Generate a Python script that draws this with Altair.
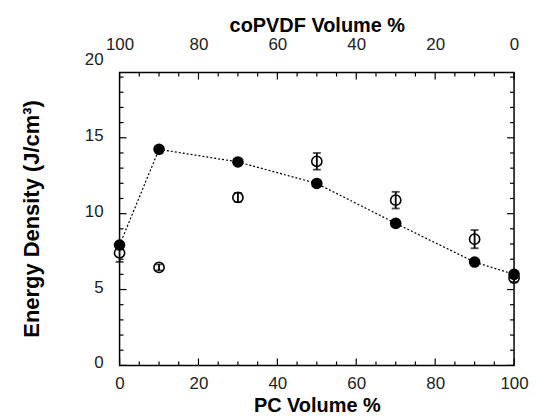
import altair as alt
import pandas as pd

# ---- data ----
pc_volume = [0, 10, 30, 50, 70, 90, 100]
filled_energy = [7.93, 14.24, 13.41, 11.99, 9.36, 6.81, 6.0]
open_energy = [7.42, 6.46, 11.07, 13.45, 10.89, 8.32, 5.76]
open_error = [0.6, 0.2, 0.3, 0.55, 0.55, 0.6, 0.25]

x_major_ticks = [0, 20, 40, 60, 80, 100]
x_minor_ticks = [5, 10, 15, 25, 30, 35, 45, 50, 55, 65, 70, 75, 85, 90, 95]
y_major_ticks = [0, 5, 10, 15]
y_minor_ticks = [1, 2, 3, 4, 6, 7, 8, 9, 11, 12, 13, 14, 16, 17, 18, 19]
y_label_values = [0, 5, 10, 15, 20]
y_title = ["Energy Density (J/cm³)"]

W, H = 396, 294
X_DOMAIN = [0, 100]
Y_DOMAIN = [0, 19.3]
FONT = "Liberation Sans"
LABEL_COLOR = "#222222"
MAJOR_LEN, MINOR_LEN = 7, 4

df = pd.DataFrame({
    "pc": pc_volume,
    "filled": filled_energy,
    "open": open_energy,
    "lo": [o - e for o, e in zip(open_energy, open_error)],
    "hi": [o + e for o, e in zip(open_energy, open_error)],
})

xs = alt.Scale(domain=X_DOMAIN, nice=False, zero=False)
ys = alt.Scale(domain=Y_DOMAIN, nice=False, zero=False)

common_axis = dict(
    tickSize=0, domain=False, grid=False, labelFlush=False,
    labelFont=FONT, labelFontSize=17, labelColor=LABEL_COLOR,
    titleFont=FONT, titleFontWeight="bold", titleColor="black",
)

bottom_axis = alt.Axis(orient="bottom", title="PC Volume %", values=x_major_ticks,
                       labelPadding=10, titlePadding=4, titleFontSize=20, **common_axis)
top_axis = alt.Axis(orient="top", title="coPVDF Volume %", values=x_major_ticks,
                    labelExpr="'' + (100 - datum.value)",
                    labelPadding=19, titlePadding=0, titleFontSize=20, **common_axis)

base = alt.Chart(df)

line = base.mark_line(color="black", strokeDash=[2, 2], strokeWidth=1.2).encode(
    x=alt.X("pc:Q", scale=xs, axis=bottom_axis),
    y=alt.Y("filled:Q", scale=ys, axis=None),
)

open_pts = base.mark_circle(size=105, fill="white", stroke="black", strokeWidth=1.6, opacity=1).encode(
    x=alt.X("pc:Q", scale=xs, axis=None),
    y=alt.Y("open:Q", scale=ys, axis=None),
)

err = base.mark_errorbar(ticks={"size": 8, "thickness": 1.8}, color="black", thickness=1.8).encode(
    x=alt.X("pc:Q", scale=xs, axis=None),
    y=alt.Y("lo:Q", scale=ys, axis=None),
    y2="hi:Q",
)

filled_pts = base.mark_circle(size=135, color="black", opacity=1).encode(
    x=alt.X("pc:Q", scale=xs, axis=top_axis),
    y=alt.Y("filled:Q", scale=ys, axis=None),
)


def tick_layer(vals, side, length):
    d = alt.Chart(pd.DataFrame({"v": vals})).mark_rule(color="black", strokeWidth=1.2)
    if side == "bottom":
        return d.encode(x=alt.X("v:Q", scale=xs, axis=None), y=alt.value(H), y2=alt.value(H - length))
    if side == "top":
        return d.encode(x=alt.X("v:Q", scale=xs, axis=None), y=alt.value(0), y2=alt.value(length))
    if side == "left":
        return d.encode(y=alt.Y("v:Q", scale=ys, axis=None), x=alt.value(0), x2=alt.value(length))
    return d.encode(y=alt.Y("v:Q", scale=ys, axis=None), x=alt.value(W), x2=alt.value(W - length))


ticks = []
for side in ["bottom", "top"]:
    ticks.append(tick_layer(x_major_ticks, side, MAJOR_LEN))
    ticks.append(tick_layer(x_minor_ticks, side, MINOR_LEN))
for side in ["left", "right"]:
    ticks.append(tick_layer(y_major_ticks, side, MAJOR_LEN))
    ticks.append(tick_layer(y_minor_ticks, side, MINOR_LEN))

# y-axis labels (drawn as text so the label "20" above the frame is kept)
y_labels = alt.Chart(pd.DataFrame({"v": y_label_values, "t": [str(v) for v in y_label_values]})).mark_text(
    align="right", baseline="middle", dx=-16, dy=-2, font=FONT, fontSize=17, color=LABEL_COLOR
).encode(
    x=alt.value(0),
    y=alt.Y("v:Q", scale=ys, axis=None),
    text="t:N",
)

y_title_layer = alt.Chart(pd.DataFrame({"t": y_title})).mark_text(
    angle=270, align="center", baseline="middle", font=FONT, fontSize=22,
    fontWeight="bold", color="black"
).encode(
    x=alt.value(-88),
    y=alt.value(H / 2),
    text="t:N",
)

chart = alt.layer(
    line, *ticks, open_pts, err, filled_pts, y_labels, y_title_layer
).resolve_axis(
    x="independent"
).properties(
    width=W, height=H,
    autosize=alt.AutoSizeParams(type="none"),
    padding={"left": 112, "top": 64, "right": 15, "bottom": 52},
).configure_view(
    stroke="black", strokeWidth=1.5
)

chart.save("out.html", embed_options={"renderer": "svg", "actions": False})
